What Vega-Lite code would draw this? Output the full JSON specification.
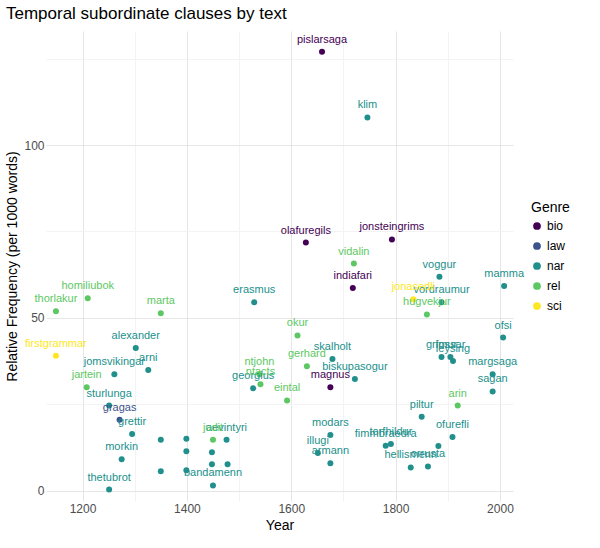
{
  "$schema": "https://vega.github.io/schema/vega-lite/v6.json",
  "width": 467,
  "height": 470,
  "padding": {"left": 5, "top": 5, "right": 5, "bottom": 5},
  "background": "white",
  "title": {"text": "Temporal subordinate clauses by text", "anchor": "start", "fontSize": 17, "font": "Liberation Sans", "fontWeight": "normal", "color": "#000", "offset": 8},
  "config": {"view": {"stroke": null}, "font": "Liberation Sans"},
  "data": {"values": [
    {"text": "pislarsaga", "year": 1659, "freq": 127, "genre": "bio"},
    {"text": "klim", "year": 1746, "freq": 108, "genre": "nar"},
    {"text": "olafuregils", "year": 1628, "freq": 71.8, "genre": "bio"},
    {"text": "jonsteingrims", "year": 1793, "freq": 72.7, "genre": "bio"},
    {"text": "indiafari", "year": 1718, "freq": 58.6, "genre": "bio"},
    {"text": "vidalin", "year": 1720, "freq": 65.7, "genre": "rel"},
    {"text": "erasmus", "year": 1529, "freq": 54.5, "genre": "nar"},
    {"text": "voggur", "year": 1884, "freq": 61.9, "genre": "nar"},
    {"text": "mamma", "year": 2008, "freq": 59.2, "genre": "nar"},
    {"text": "vordraumur", "year": 1888, "freq": 54.5, "genre": "nar"},
    {"text": "jonasedli", "year": 1834, "freq": 55.4, "genre": "sci"},
    {"text": "thorlakur", "year": 1149, "freq": 51.9, "genre": "rel"},
    {"text": "homiliubok", "year": 1210, "freq": 55.7, "genre": "rel"},
    {"text": "marta", "year": 1350, "freq": 51.3, "genre": "rel"},
    {"text": "firstgrammar", "year": 1149, "freq": 39, "genre": "sci"},
    {"text": "hugvekjur", "year": 1860, "freq": 51, "genre": "rel"},
    {"text": "alexander", "year": 1302, "freq": 41.3, "genre": "nar"},
    {"text": "okur", "year": 1612, "freq": 44.9, "genre": "rel"},
    {"text": "skalholt", "year": 1679, "freq": 38.1, "genre": "nar"},
    {"text": "fossar", "year": 1905, "freq": 38.7, "genre": "nar"},
    {"text": "grimur", "year": 1888, "freq": 38.7, "genre": "nar"},
    {"text": "leysing", "year": 1910, "freq": 37.5, "genre": "nar"},
    {"text": "ofsi", "year": 2006, "freq": 44.3, "genre": "nar"},
    {"text": "margsaga", "year": 1986, "freq": 33.7, "genre": "nar"},
    {"text": "sagan", "year": 1986, "freq": 28.7, "genre": "nar"},
    {"text": "jomsvikingar", "year": 1261, "freq": 33.7, "genre": "nar"},
    {"text": "arni", "year": 1326, "freq": 34.9, "genre": "nar"},
    {"text": "ntjohn", "year": 1539, "freq": 33.7, "genre": "rel"},
    {"text": "gerhard", "year": 1630, "freq": 36, "genre": "rel"},
    {"text": "jartein", "year": 1208, "freq": 29.9, "genre": "rel"},
    {"text": "georgius", "year": 1527, "freq": 29.6, "genre": "nar"},
    {"text": "ntacts", "year": 1541, "freq": 30.8, "genre": "rel"},
    {"text": "biskupasogur", "year": 1722, "freq": 32.3, "genre": "nar"},
    {"text": "magnus", "year": 1675, "freq": 29.9, "genre": "bio"},
    {"text": "arin", "year": 1919, "freq": 24.6, "genre": "rel"},
    {"text": "eintal", "year": 1592, "freq": 26.1, "genre": "rel"},
    {"text": "sturlunga", "year": 1251, "freq": 24.6, "genre": "nar"},
    {"text": "gragas", "year": 1271, "freq": 20.5, "genre": "law"},
    {"text": "piltur", "year": 1850, "freq": 21.4, "genre": "nar"},
    {"text": "grettir", "year": 1295, "freq": 16.4, "genre": "nar"},
    {"text": "modars", "year": 1675, "freq": 16.1, "genre": "nar"},
    {"text": "ofurefli", "year": 1909, "freq": 15.5, "genre": "nar"},
    {"text": "aevintyri", "year": 1476, "freq": 14.7, "genre": "nar"},
    {"text": "judit", "year": 1450, "freq": 14.7, "genre": "rel"},
    {"text": "", "year": 1350, "freq": 14.7, "genre": "nar"},
    {"text": "", "year": 1399, "freq": 15, "genre": "nar"},
    {"text": "", "year": 1399, "freq": 11.4, "genre": "nar"},
    {"text": "", "year": 1448, "freq": 11.1, "genre": "nar"},
    {"text": "", "year": 1448, "freq": 7.6, "genre": "nar"},
    {"text": "", "year": 1478, "freq": 7.6, "genre": "nar"},
    {"text": "", "year": 1399, "freq": 5.9, "genre": "nar"},
    {"text": "", "year": 1350, "freq": 5.6, "genre": "nar"},
    {"text": "morkin", "year": 1275, "freq": 9.1, "genre": "nar"},
    {"text": "bandamenn", "year": 1450, "freq": 1.5, "genre": "nar"},
    {"text": "torfhildur", "year": 1791, "freq": 13.5, "genre": "nar"},
    {"text": "", "year": 1882, "freq": 12.9, "genre": "nar"},
    {"text": "illugi", "year": 1651, "freq": 10.9, "genre": "nar"},
    {"text": "armann", "year": 1675, "freq": 7.9, "genre": "nar"},
    {"text": "fimmbraedra", "year": 1781, "freq": 13, "genre": "nar"},
    {"text": "orrusta", "year": 1862, "freq": 7, "genre": "nar"},
    {"text": "hellismenn", "year": 1829, "freq": 6.7, "genre": "nar"},
    {"text": "thetubrot", "year": 1251, "freq": 0.3, "genre": "nar"}
  ]},
  "encoding": {
    "x": {"field": "year", "type": "quantitative", "title": "Year",
      "scale": {"domain": [1130, 2025], "nice": false, "zero": false},
      "axis": {"values": [1200, 1300, 1400, 1500, 1600, 1700, 1800, 1900, 2000],
        "labelExpr": "datum.value % 200 == 0 ? datum.label : ''",
        "gridColor": {"condition": {"test": "datum.value % 200 == 0", "value": "#e6e6e6"}, "value": "#f3f3f3"},
        "domain": false, "ticks": false, "labelFontSize": 12, "labelColor": "#4d4d4d", "titleFontSize": 14, "titleFontWeight": "normal", "format": "d"}},
    "y": {"field": "freq", "type": "quantitative", "title": "Relative Frequency (per 1000 words)",
      "scale": {"domain": [-3, 133], "nice": false},
      "axis": {"values": [0, 25, 50, 75, 100, 125],
        "labelExpr": "datum.value % 50 == 0 ? datum.label : ''",
        "gridColor": {"condition": {"test": "datum.value % 50 == 0", "value": "#e6e6e6"}, "value": "#f3f3f3"},
        "domain": false, "ticks": false, "labelFontSize": 12, "labelColor": "#4d4d4d", "titleFontSize": 14, "titleFontWeight": "normal"}},
    "color": {"field": "genre", "type": "nominal", "title": "Genre",
      "scale": {"domain": ["bio", "law", "nar", "rel", "sci"], "range": ["#440154", "#3b528b", "#21908c", "#5dc863", "#fde725"]},
      "legend": {"titleFontSize": 14, "titleFontWeight": "normal", "labelFontSize": 12, "symbolType": "circle", "symbolOpacity": 1, "symbolSize": 60, "rowPadding": 8, "orient": "none", "legendX": 485, "legendY": 170}}
  },
  "layer": [
    {"mark": {"type": "circle", "size": 36, "opacity": 1}},
    {"mark": {"type": "text", "dy": -12, "fontSize": 11}, "encoding": {"text": {"field": "text"}}}
  ]
}
